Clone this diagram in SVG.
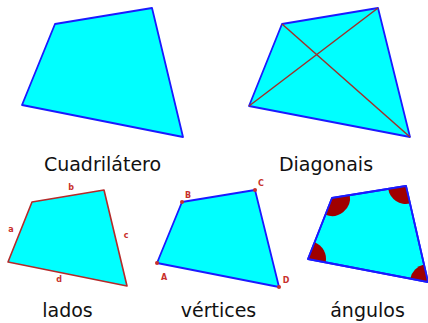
<svg xmlns="http://www.w3.org/2000/svg" width="428" height="323" viewBox="0 0 428 323">
<style>
.q{fill:#00ffff;stroke:#1a1aff;stroke-width:1.8;stroke-linejoin:round}
.qr{fill:#00ffff;stroke:#b52a2a;stroke-width:1.6;stroke-linejoin:round}
.qs{fill:none;stroke:#1a1aff;stroke-width:1.8;stroke-linejoin:round}
.diag{stroke:#a0302a;stroke-width:1.5;fill:none}
.ang{fill:#a00000;stroke:none}
.dot{fill:#c8302a}
.lbl{font-family:"DejaVu Sans",Verdana,sans-serif;font-size:19px;fill:#111;text-anchor:middle}
.sm{font-family:"DejaVu Sans",Verdana,sans-serif;font-size:8px;font-weight:bold;fill:#c8302a;text-anchor:middle}
</style>
<rect width="428" height="323" fill="#ffffff"/>
<g id="cuadrilatero">
<polygon class="q" points="55,24 152,8 183,137 22,105"/>
<text class="lbl" x="102.5" y="171">Cuadrilátero</text>
</g>
<g id="diagonais">
<polygon class="q" points="282,24 378,8 410,137 249,106"/>
<line class="diag" x1="282" y1="24" x2="410" y2="137"/>
<line class="diag" x1="378" y1="8" x2="249" y2="106"/>
<text class="lbl" x="326" y="171">Diagonais</text>
</g>
<g id="lados">
<polygon class="qr" points="32,202 104,190 127,286 8,262"/>
<text class="sm" x="71" y="190">b</text>
<text class="sm" x="11" y="232">a</text>
<text class="sm" x="126" y="238">c</text>
<text class="sm" x="59" y="282">d</text>
<text class="lbl" x="67.5" y="317">lados</text>
</g>
<g id="vertices">
<polygon class="q" points="182,202 255,190 279,287 157,263"/>
<circle class="dot" cx="182" cy="202" r="2"/>
<circle class="dot" cx="255" cy="190" r="2"/>
<circle class="dot" cx="279" cy="287" r="2"/>
<circle class="dot" cx="157" cy="263" r="2"/>
<text class="sm" x="188" y="198">B</text>
<text class="sm" x="261" y="186">C</text>
<text class="sm" x="164" y="280">A</text>
<text class="sm" x="286" y="283">D</text>
<text class="lbl" x="218.5" y="317">vértices</text>
</g>
<g id="angulos">
<polygon class="q" points="332,198 406,186 428,282 308,259"/>
<path class="ang" d="M332,198 L349.8,195.1 A18,18 0 0 1 325.4,214.8 Z"/>
<path class="ang" d="M406,186 L410,203.5 A18,18 0 0 1 388.2,188.9 Z"/>
<path class="ang" d="M428,282 L410.3,278.6 A18,18 0 0 1 424,264.5 Z"/>
<path class="ang" d="M308,259 L314.6,242.2 A18,18 0 0 1 325.7,262.4 Z"/>
<polygon class="qs" points="332,198 406,186 428,282 308,259"/>
<text class="lbl" x="367.5" y="317">ángulos</text>
</g>
<g id="connectors"></g>
</svg>
